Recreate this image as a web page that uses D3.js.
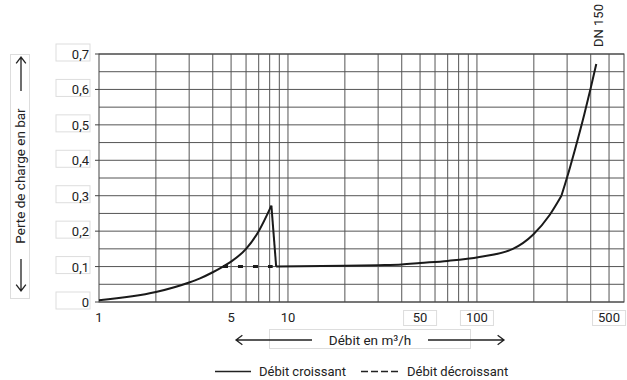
<!DOCTYPE html>
<head>
    <meta charset="utf-8">
    <script src='https://d3js.org/d3.v7.min.js'></script>
    <title>Perte de charge DN 150</title>
    <style>
        body { margin: 0; background: #ffffff; }
        svg { display: block; }
        text { font-family: Roboto, "Noto Sans", sans-serif; fill: #222; }
    </style>
</head>
<body>
    <svg id="chart" width="627" height="380"></svg>
<script>

// débit croissant (m3/h -> bar)
var flowUp = [1, 2, 3, 3.4, 4, 4.53, 5, 6, 7, 8.17, 8.66, 20, 30, 40, 50, 70, 103, 155, 198, 242, 280, 300, 330, 370, 400, 428];
var lossUp = [0.005, 0.028, 0.055, 0.066, 0.084, 0.1, 0.114, 0.15, 0.2, 0.272, 0.1, 0.102, 0.104, 0.106, 0.11, 0.116, 0.127, 0.15, 0.19, 0.245, 0.3, 0.352, 0.43, 0.53, 0.604, 0.672];
// points where the curve breaks (no smoothing)
var corners = [8.17, 8.66, 280];

// débit décroissant
var flowDown = [4.53, 8.3];
var lossDown = [0.1, 0.1];

var yTicks = [0, 0.1, 0.2, 0.3, 0.4, 0.5, 0.6, 0.7];
var xTicks = [1, 5, 10, 50, 100, 500];
var xBoxed = [50, 100, 500];

var svg = d3.select("#chart");
// note: "top" is taken by window.top, so use other names
var pLeft = 99, pRight = 624, pTop = 54, pBottom = 302;

var x = d3.scaleLog().domain([1, 600]).range([pLeft, pRight]);
var y = d3.scaleLinear().domain([0, 0.7]).range([pBottom, pTop]);

// grid
var xGrid = [];
[1, 10, 100].forEach(function(dec) {
  for (var k = 1; k < 10; k++) {
    var v = dec * k;
    if (v > 1 && v < 600) xGrid.push(v);
  }
});
var yGrid = d3.range(0, 15).map(function(i) { return i * 0.05; });

svg.append("g").selectAll("line")
  .data(xGrid)
  .enter().append("line")
  .attr("x1", function(d) { return x(d); })
  .attr("x2", function(d) { return x(d); })
  .attr("y1", pTop).attr("y2", pBottom)
  .attr("stroke", "#555").attr("stroke-width", 1);

svg.append("g").selectAll("line")
  .data(yGrid)
  .enter().append("line")
  .attr("x1", pLeft).attr("x2", pRight)
  .attr("y1", function(d) { return y(d); })
  .attr("y2", function(d) { return y(d); })
  .attr("stroke", "#555").attr("stroke-width", 1);

svg.append("rect")
  .attr("x", pLeft).attr("y", pTop)
  .attr("width", pRight - pLeft).attr("height", pBottom - pTop)
  .attr("fill", "none").attr("stroke", "#444").attr("stroke-width", 1);

// y axis labels in little boxes
var yl = svg.append("g").selectAll("g").data(yTicks).enter().append("g");
yl.append("rect")
  .attr("x", 56).attr("y", function(d) { return y(d) - 10; })
  .attr("width", 34).attr("height", 17)
  .attr("fill", "none").attr("stroke", "#ddd");
yl.append("line")
  .attr("x1", pLeft - 4).attr("x2", pLeft)
  .attr("y1", function(d) { return y(d); })
  .attr("y2", function(d) { return y(d); })
  .attr("stroke", "#444");
yl.append("text")
  .attr("x", 89).attr("y", function(d) { return y(d) + 5; })
  .attr("text-anchor", "end")
  .style("font-size", "13px")
  .text(function(d) { return d === 0 ? "0" : d3.format(".1f")(d).replace(".", ","); });

// x axis labels
svg.append("g").selectAll("rect").data(xBoxed).enter().append("rect")
  .attr("x", function(d) { return x(d) - 16.5; }).attr("y", 310.5)
  .attr("width", 33).attr("height", 15)
  .attr("fill", "none").attr("stroke", "#ddd");
svg.append("g").selectAll("text").data(xTicks).enter().append("text")
  .attr("x", function(d) { return x(d); }).attr("y", 322)
  .attr("text-anchor", "middle")
  .style("font-size", "13px")
  .text(function(d) { return d; });

// curve, split at the corners
var pts = flowUp.map(function(f, i) { return [f, lossUp[i]]; });
var segments = [[]];
pts.forEach(function(p, i) {
  segments[segments.length - 1].push(p);
  if (corners.indexOf(p[0]) >= 0 && i > 0 && i < pts.length - 1) segments.push([p]);
});
var line = d3.line()
  .x(function(d) { return x(d[0]); })
  .y(function(d) { return y(d[1]); })
  .curve(d3.curveMonotoneX);

svg.append("g").selectAll("path").data(segments).enter().append("path")
  .attr("d", line)
  .attr("fill", "none").attr("stroke", "#1a1a1a")
  .attr("stroke-width", 2).attr("stroke-linejoin", "round");

svg.append("path")
  .attr("d", d3.line().x(function(d) { return x(d); }).y(function(d, i) { return y(lossDown[i]); })(flowDown))
  .attr("fill", "none").attr("stroke", "#1a1a1a")
  .attr("stroke-width", 3).attr("stroke-dasharray", "5,10");

// DN label
svg.append("text")
  .attr("transform", "translate(603,47) rotate(-90)")
  .style("font-size", "13px")
  .text("DN 150");

// y title with arrows
svg.append("rect").attr("x", 10.5).attr("y", 54.5).attr("width", 19).attr("height", 244)
  .attr("fill", "none").attr("stroke", "#ddd");
svg.append("text")
  .attr("transform", "translate(24.5,176) rotate(-90)")
  .attr("text-anchor", "middle")
  .style("font-size", "13.5px")
  .text("Perte de charge en bar");

function arrow(x1, y1, x2, y2) {
  var a = Math.atan2(y2 - y1, x2 - x1), l = 8, w = 0.65;
  svg.append("path")
    .attr("d", "M" + x1 + "," + y1 + "L" + x2 + "," + y2 +
      "M" + (x2 - l * Math.cos(a - w)) + "," + (y2 - l * Math.sin(a - w)) +
      "L" + x2 + "," + y2 +
      "L" + (x2 - l * Math.cos(a + w)) + "," + (y2 - l * Math.sin(a + w)))
    .attr("fill", "none").attr("stroke", "#222").attr("stroke-width", 1.3);
}
arrow(21, 91, 21, 57);
arrow(21, 259, 21, 291);

// x title with arrows
svg.append("rect").attr("x", 269.5).attr("y", 329.5).attr("width", 201).attr("height", 19)
  .attr("fill", "none").attr("stroke", "#ddd");
svg.append("text")
  .attr("x", 370).attr("y", 345)
  .attr("text-anchor", "middle")
  .style("font-size", "13.5px")
  .text("Débit en m³/h");
arrow(312, 340, 236, 340);
arrow(428, 340, 504, 340);

// legend
svg.append("line").attr("x1", 215).attr("x2", 251).attr("y1", 371.5).attr("y2", 371.5)
  .attr("stroke", "#222").attr("stroke-width", 1.5);
svg.append("text").attr("x", 259).attr("y", 376).style("font-size", "13px").text("Débit croissant");
svg.append("line").attr("x1", 361).attr("x2", 398).attr("y1", 371.5).attr("y2", 371.5)
  .attr("stroke", "#222").attr("stroke-width", 1.5).attr("stroke-dasharray", "7,3");
svg.append("text").attr("x", 407).attr("y", 376).style("font-size", "13px").text("Débit décroissant");

</script>
</body>
</html>
